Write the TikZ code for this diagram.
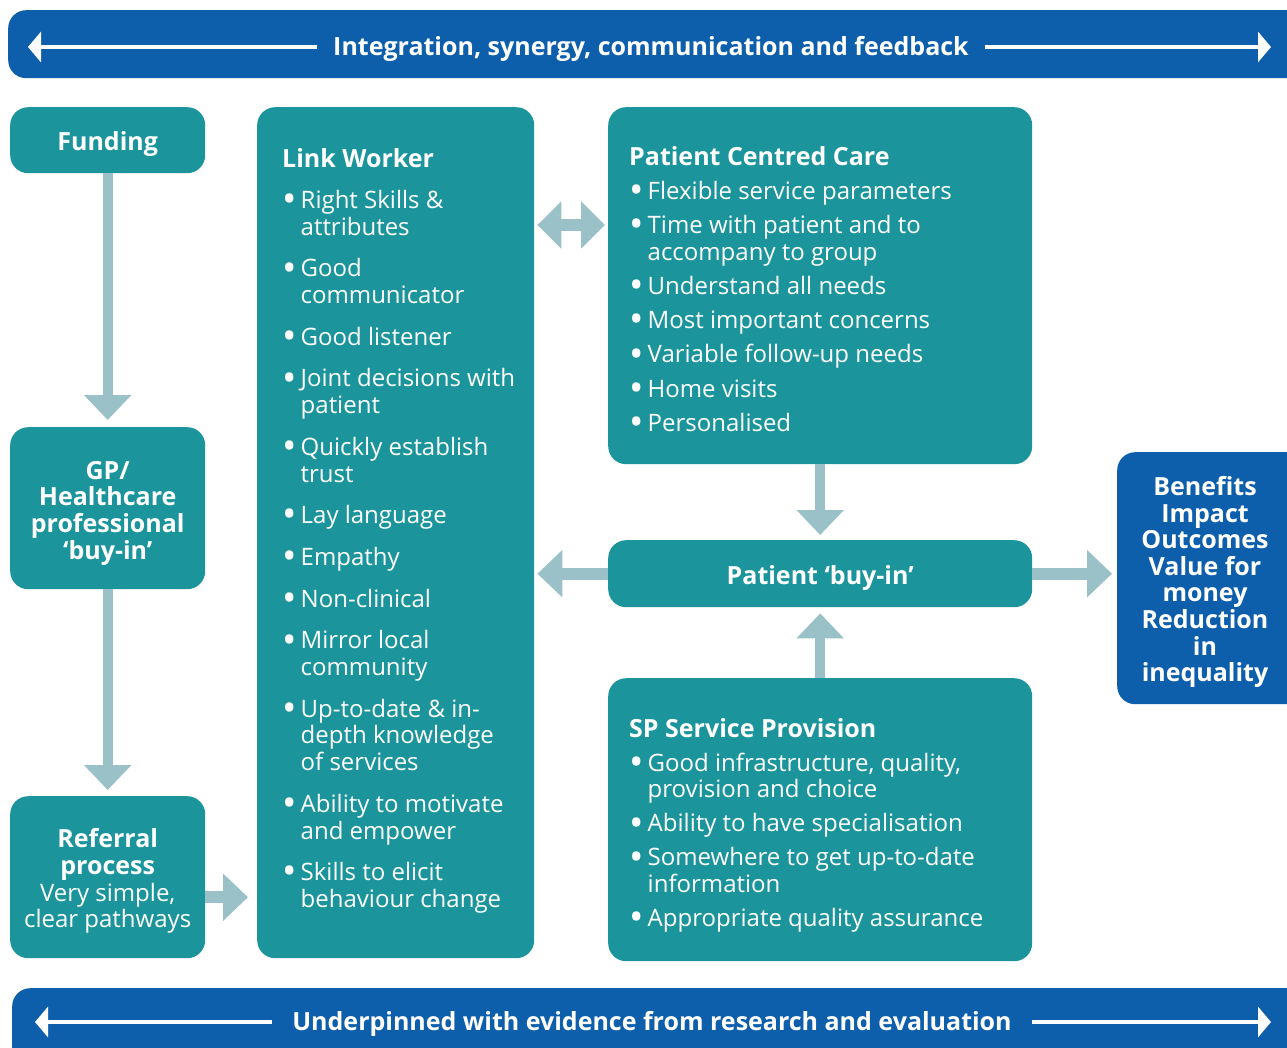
\documentclass[tikz,border=0pt]{standalone}
\usepackage{fontspec}
\setmainfont{Open Sans}
\usetikzlibrary{arrows.meta,calc}
\definecolor{tealbox}{HTML}{1B959B}
\definecolor{bluebox}{HTML}{0D5FAC}
\definecolor{arrowc}{HTML}{9BC1C8}
\newcommand\bl{\makebox[18.5pt][l]{\raisebox{-4.2pt}{\scalebox{1.6}{•}}}}
\newcommand\ct{\hspace*{18.5pt}}
\begin{document}
\begin{tikzpicture}[x=1pt,y=-1pt,
  tbox/.style={rounded corners=18pt, fill=tealbox, inner sep=0pt, anchor=north west},
  bbox/.style={rounded corners=18pt, fill=bluebox, inner sep=0pt, anchor=north west},
  boxtext/.style={text=white, inner sep=0pt, align=center, font=\fontsize{25}{26.7}\selectfont\bfseries},
  bantext/.style={text=white, inner sep=0pt, font=\fontsize{25}{27}\selectfont\bfseries},
  bodytext/.style={text=white, inner sep=0pt, anchor=north west, align=left,
    font=\fontsize{24}{26.7}\selectfont},
  blk/.style={draw=arrowc, line width=10pt, -{Triangle[length=25pt,width=46pt]}},
  blkh/.style={draw=arrowc, line width=12pt, -{Triangle[length=25pt,width=46pt]}},
  blkd/.style={draw=arrowc, line width=12pt, {Triangle[length=24pt,width=46pt]}-{Triangle[length=24pt,width=46pt]}},
  wl/.style={draw=white, line width=4pt, -{Triangle[length=13pt,width=30pt]}}
]
\clip (0,0) rectangle (1287,1048);
\fill[white] (0,0) rectangle (1287,1048);

% top banner
\node[bbox, minimum width=1320pt, minimum height=68pt] (top) at (8,10) {};
\node[bantext] (toptext) at (651,49) {Integration, synergy, communication and feedback};
\coordinate (tl) at (28,47);
\coordinate (tr) at (1271,47);
\draw[wl] ([xshift=-16pt,yshift=2pt]toptext.west) -- (tl);
\draw[wl] ([xshift=16pt,yshift=2pt]toptext.east) -- (tr);

% bottom banner
\node[bbox, minimum width=1320pt, minimum height=80pt] (bot) at (12,988) {};
\node[bantext] (bottext) at (652,1024) {Underpinned with evidence from research and evaluation};
\coordinate (bl) at (35,1022);
\coordinate (br) at (1271,1022);
\draw[wl] ([xshift=-20pt,yshift=2pt]bottext.west) -- (bl);
\draw[wl] ([xshift=20pt,yshift=2pt]bottext.east) -- (br);

% left column
\node[tbox, minimum width=195pt, minimum height=66pt] (fund) at (10,107) {};
\node[boxtext] (fundt) at ($(fund.center)+(0,4)$) {Funding};
\node[tbox, minimum width=195pt, minimum height=162pt] (gp) at (10,427) {};
\node[boxtext] (gpt) at ($(gp.center)+(0,5)$) {GP/\\Healthcare\\professional\\‘buy-in’};
\node[tbox, minimum width=195pt, minimum height=162pt] (ref) at (10,796) {};
\node[boxtext] (reft) at ($(ref.center)+(0,4)$) {Referral\\process\\\mdseries\fontsize{24}{26.7}\selectfont Very simple,\\\mdseries\fontsize{24}{26.7}\selectfont clear pathways};

% link worker
\node[tbox, minimum width=277pt, minimum height=851pt] (lw) at (257,107) {};
\node[bodytext] (lwt) at (282,148) {{\bfseries\fontsize{25}{26.7}\selectfont Link Worker}\\[14.5pt]
\bl Right Skills \&\\ \ct attributes\\[15pt]
\bl Good\\ \ct communicator\\[15pt]
\bl Good listener\\[15pt]
\bl Joint decisions with\\ \ct patient\\[15pt]
\bl Quickly establish\\ \ct trust\\[15pt]
\bl Lay language\\[15pt]
\bl Empathy\\[15pt]
\bl Non-clinical\\[15pt]
\bl Mirror local\\ \ct community\\[15pt]
\bl Up-to-date \& in-\\ \ct depth knowledge\\ \ct of services\\[15pt]
\bl Ability to motivate\\ \ct and empower\\[15pt]
\bl Skills to elicit\\ \ct behaviour change};

% patient centred care
\node[tbox, minimum width=424pt, minimum height=357pt] (pcc) at (608,107) {};
\node[bodytext] (pcct) at (629,146) {{\bfseries\fontsize{25}{26.7}\selectfont Patient Centred Care}\\[7.5pt]
\bl Flexible service parameters\\[7.5pt]
\bl Time with patient and to\\ \ct accompany to group\\[7.5pt]
\bl Understand all needs\\[7.5pt]
\bl Most important concerns\\[7.5pt]
\bl Variable follow-up needs\\[7.5pt]
\bl Home visits\\[7.5pt]
\bl Personalised};

% patient buy-in
\node[tbox, minimum width=424pt, minimum height=67pt] (pbi) at (608,540) {};
\node[boxtext] (pbit) at ($(pbi.center)+(0,4)$) {Patient ‘buy-in’};

% SP service provision
\node[tbox, minimum width=424pt, minimum height=283pt] (sp) at (608,678) {};
\node[bodytext] (spt) at (629,718) {{\bfseries\fontsize{25}{26.7}\selectfont SP Service Provision}\\[7.3pt]
\bl Good infrastructure, quality,\\ \ct provision and choice\\[7.3pt]
\bl Ability to have specialisation\\[7.3pt]
\bl Somewhere to get up-to-date\\ \ct information\\[7.3pt]
\bl Appropriate quality assurance};

% benefits
\node[bbox, minimum width=200pt, minimum height=252pt] (ben) at (1117,452) {};
\node[boxtext, font=\fontsize{25}{26.6}\selectfont\bfseries] (bent) at (1205,582)
 {Benefits\\Impact\\Outcomes\\Value for\\money\\Reduction\\in\\inequality};

% connectors
\draw[blk] (fund.south) -- ([yshift=7pt]gp.north);
\draw[blk] (gp.south) -- ([yshift=6pt]ref.north);
\coordinate (r1) at ([yshift=-20pt]ref.east);
\draw[blkh] (r1) -- ($(r1 -| lw.west)+(-9,0)$);
\coordinate (y225) at (0,225);
\draw[blkd] ($(lw.east |- y225)+(3,0)$) -- ($(pcc.west |- y225)+(-3,0)$);
\draw[blk] (pcc.south) -- ([yshift=5pt]pbi.north);
\draw[blk] (sp.north) -- ([yshift=-6pt]pbi.south);
\draw[blkh] (pbi.west) -- ($(pbi.west -| lw.east)+(3,0)$);
\draw[blkh] (pbi.east) -- ($(pbi.east -| ben.west)+(-5,0)$);
\end{tikzpicture}
\end{document}
